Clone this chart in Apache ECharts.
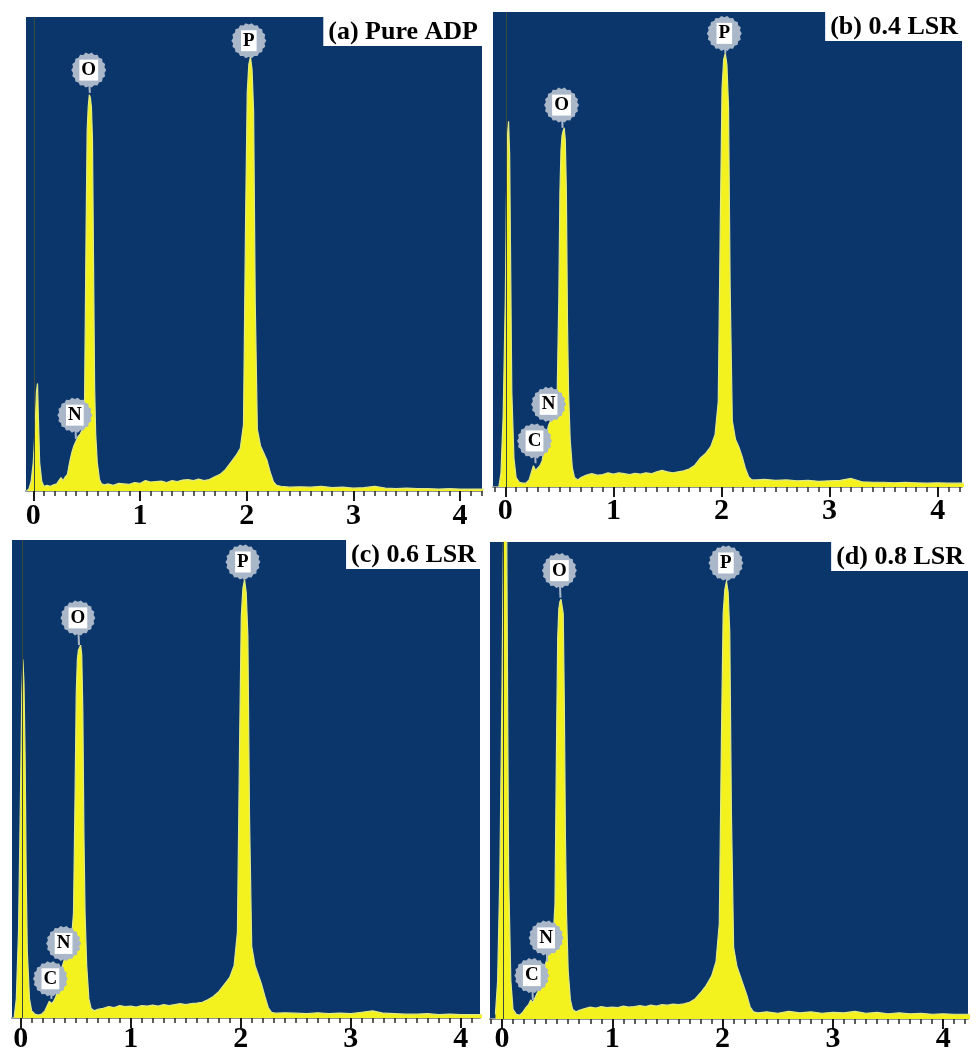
<!DOCTYPE html>
<html>
<head>
<meta charset="utf-8">
<script src="https://cdn.jsdelivr.net/npm/echarts@6/dist/echarts.min.js"></script>
<style>
  html, body { margin: 0; padding: 0; background: #ffffff; }
  #chart { width: 976px; height: 1054px; }
</style>
</head>
<body>
<div id="chart"></div>
<script>
// ---------------- DATA ----------------
// Energy (keV) sampling grid shared by all four EDS spectra
const energy = [
  -0.06,-0.04,-0.02,0.0,0.01,0.02,0.03,0.04,0.05,0.06,
  0.08,0.10,0.13,0.16,0.19,0.22,0.24,0.26,0.27,0.28,
  0.30,0.32,0.34,0.36,0.38,0.40,0.42,0.44,0.46,0.48,
  0.495,0.505,0.515,0.525,0.535,0.545,0.555,0.565,0.575,0.585,
  0.60,0.62,0.64,0.67,0.70,0.75,0.80,0.85,0.90,0.95,
  1.00,1.05,1.10,1.15,1.20,1.25,1.30,1.35,1.40,1.45,
  1.50,1.55,1.60,1.65,1.70,1.75,1.80,1.85,1.90,1.94,
  1.97,1.99,2.005,2.02,2.035,2.05,2.065,2.08,2.10,2.13,
  2.16,2.19,2.22,2.25,2.28,2.32,2.40,2.50,2.60,2.70,
  2.80,2.90,3.00,3.10,3.20,3.30,3.40,3.50,3.60,3.70,
  3.80,3.90,4.00,4.10,4.20,4.25
];

// Relative counts (% of full scale) — (a) Pure ADP
const countsA = [
  0,0.5,2,6,10,15,21,22.7,14,6,
  2,1,1.2,1,1.3,1.5,2.2,2.8,2.5,2.2,
  3,3.5,6,8,9.5,10.5,11.5,12,13,17,
  55,76,81,83.6,83,81,74,48,22,12,
  6,2.5,1.5,1.3,1.5,1.2,1.6,1.5,1.4,1.8,
  1.6,2.2,1.9,2,2.1,1.8,2.2,2,2.3,2.4,
  2.2,2.5,2.2,2.4,3,3.5,4.5,6,7.5,9,
  14,58,84,90,91.6,89,80,40,13,9.5,
  8,6.5,4,2,1.2,1,0.8,0.9,0.8,1,
  0.7,0.8,0.6,0.7,1,0.6,0.5,0.6,0.5,0.5,
  0.4,0.5,0.4,0.4,0.4,0.4
];
// (b) 0.4 LSR
const countsB = [
  0,3,15,40,60,74,77,70,45,20,
  6,2,1,0.8,0.8,1.5,3,4.5,4,3.5,
  4,4.5,5.5,8,11,13,14,14.5,15.5,20,
  40,62,71,74,75,75.6,73,62,35,20,
  10,4,2,1.5,2,2.5,2.8,2.5,2.6,3,
  2.7,3,2.8,2.6,2.9,2.7,3,2.8,3.2,3.5,
  3.2,3,3.2,3.4,3.8,4.5,6,7,8.5,11,
  18,58,84,90,91.3,89,80,42,14,10,
  8.5,6.5,4,2.2,1.5,1.5,1.6,1.4,1.5,1.3,
  1.4,1.2,1.3,1.4,1.8,1.1,1,1,0.9,1,
  0.9,0.8,0.9,0.8,0.8,0.8
];
// (c) 0.6 LSR
const countsC = [
  0,4,18,50,68,75,70,55,30,14,
  4,1.5,0.8,0.6,0.8,1.5,2.5,3.5,3.2,3,
  3.5,4.5,6,8.5,11,12.5,13.5,14.5,16,22,
  48,68,75,77,77.5,78,76,64,38,22,
  11,4,2,1.5,1.8,2,2.4,2.2,2.6,2.4,
  2.5,2.3,2.6,2.5,2.7,2.5,2.8,2.6,2.8,3,
  2.8,3,3.1,3.3,3.8,4.5,5.5,7,8.5,11,
  18,58,84,90,91.7,89,80,42,15,11,
  9,7,4.5,2.2,1.2,1,1.1,1,0.9,1.1,
  0.9,1,0.9,1.2,1.5,1,0.9,0.8,0.8,0.9,
  0.7,0.8,0.7,0.7,0.7,0.7
];
// (d) 0.8 LSR
const countsD = [
  1,8,30,70,95,110,120,115,70,30,
  8,2,1,0.8,1.5,2.5,3,4,3.8,3.5,
  4.5,5.5,6.5,8.5,10.5,12,13.5,14.5,16,24,
  60,80,86,87.5,88,88.3,85,66,38,22,
  10,4,2,1.5,1.8,2.2,2.5,2.3,2.6,2.4,
  2.5,2.4,2.7,2.5,2.6,2.8,2.6,2.9,2.7,3,
  2.9,3.1,3,3.2,3.5,4.2,5.5,7,9,12,
  20,60,85,90,91.8,89.5,81,43,15,11,
  9,7,5,2.5,1.5,1.3,1.5,1.2,1.6,1.3,
  1.5,1.2,1.4,1.3,1.6,1.2,1.4,1.1,1.3,1.1,
  1.2,1,1.1,1,1,1
];

// Element markers: [element, energy, marker height, peak-top height]
const peaksA = [['N',0.39,16,11],['O',0.52,88.8,84],['P',2.02,95,91.6]];
const peaksB = [['C',0.27,9.7,5],['N',0.40,17.4,14],['O',0.52,80.4,75.6],['P',2.026,95.5,91.3]];
const peaksC = [['C',0.27,8.2,4],['N',0.39,15.6,12.5],['O',0.52,83.7,78],['P',2.02,95.4,91.7]];
const peaksD = [['C',0.27,9.1,4],['N',0.40,17,12],['O',0.52,94,88.3],['P',2.03,95.6,91.8]];

const panelTitles = ['(a) Pure ADP', '(b) 0.4 LSR', '(c) 0.6 LSR', '(d) 0.8 LSR'];
const majorTicks = [0, 1, 2, 3, 4];
const tickLabels = ['0', '1', '2', '3', '4'];

// ---------------- LAYOUT / STYLE ----------------
const BG = '#0b366b';
const YELLOW = '#f3f21e';
const EDGE = '#e2ea86';
const GEAR = '#a9b7c9';
const SERIF = '"Liberation Serif", "DejaVu Serif", serif';

const layout = [
  { left: 26,  top: 17,  width: 456, height: 474, min: -0.068, max: 4.205, margin: 10 },
  { left: 493, top: 12,  width: 469, height: 475, min: -0.114, max: 4.225, margin: 9 },
  { left: 12,  top: 540, width: 468, height: 480, min: -0.079, max: 4.175, margin: 6 },
  { left: 490, top: 542, width: 478, height: 482, min: -0.109, max: 4.225, margin: 5 }
];
const countsList = [countsA, countsB, countsC, countsD];
const peaksList = [peaksA, peaksB, peaksC, peaksD];

function gearPath(n) {
  const pts = [];
  for (let i = 0; i < n * 2; i++) {
    const a = (i / (n * 2)) * Math.PI * 2;
    const r = i % 2 === 0 ? 50 : 45.5;
    pts.push((50 + r * Math.cos(a)).toFixed(2) + ' ' + (50 + r * Math.sin(a)).toFixed(2));
  }
  return 'path://M' + pts.join(' L') + ' Z';
}
const GEAR_PATH = gearPath(18);

const grids = [], xAxes = [], yAxes = [], series = [], titles = [];

layout.forEach((L, p) => {
  grids.push({ left: L.left, top: L.top, width: L.width, height: L.height,
    show: true, backgroundColor: BG, borderWidth: 0 });
  const minor = [];
  for (let k = -2; k <= 43; k++) {
    const v = k / 10;
    if (k % 10 !== 0 && v >= L.min && v <= L.max) minor.push(v);
  }
  xAxes.push({
    type: 'value', gridIndex: p, min: L.min, max: L.max, position: 'bottom',
    splitLine: { show: false },
    axisLine: { show: true, onZero: false, lineStyle: { color: '#8e9298', width: 2 } },
    axisTick: { show: true, inside: false, length: 10, customValues: majorTicks,
      lineStyle: { color: '#1a1a1a', width: 2 } },
    axisLabel: { show: true, customValues: majorTicks, margin: L.margin,
      formatter: v => tickLabels[majorTicks.indexOf(Math.round(v))] ?? '',
      color: '#000', fontFamily: SERIF, fontWeight: 'bold', fontSize: 30 }
  });
  xAxes.push({
    type: 'value', gridIndex: p, min: L.min, max: L.max, position: 'bottom',
    splitLine: { show: false },
    axisLine: { show: false },
    axisTick: { show: true, inside: false, length: 5, customValues: minor,
      lineStyle: { color: '#2a2a2a', width: 1.5 } },
    axisLabel: { show: false }
  });
  yAxes.push({ type: 'value', gridIndex: p, min: 0, max: 100, show: false });

  const counts = countsList[p];
  series.push({
    type: 'line', xAxisIndex: 2 * p, yAxisIndex: p, z: 2,
    data: energy.map((e, i) => [e, counts[i]]),
    showSymbol: false, smooth: false, clip: true, animation: false,
    lineStyle: { color: EDGE, width: 1.2 },
    areaStyle: { color: YELLOW, opacity: 1 },
    markLine: { silent: true, symbol: 'none', animation: false,
      label: { show: false },
      lineStyle: { color: '#3b4a3a', width: 1, type: 'solid' },
      data: [{ xAxis: 0.01 }] }
  });
  peaksList[p].forEach(pk => {
    series.push({
      type: 'line', xAxisIndex: 2 * p, yAxisIndex: p, z: 3,
      data: [[pk[1], pk[2]], [pk[1] + 0.01, pk[3]]],
      showSymbol: false, animation: false,
      lineStyle: { color: GEAR, width: 2 }
    });
  });
  series.push({
    type: 'scatter', xAxisIndex: 2 * p, yAxisIndex: p, z: 5, animation: false,
    symbol: GEAR_PATH, symbolSize: 35,
    itemStyle: { color: GEAR, opacity: 1 },
    data: peaksList[p].map(pk => ({ name: pk[0], value: [pk[1], pk[2]] })),
    label: { show: true, position: 'inside', formatter: q => q.name,
      backgroundColor: '#ffffff', padding: [2, 2, 0, 2],
      color: '#000', fontFamily: SERIF, fontWeight: 'bold', fontSize: 19, lineHeight: 19 }
  });

  titles.push({
    text: panelTitles[p],
    right: 976 - (L.left + L.width), top: L.top,
    backgroundColor: '#ffffff', padding: [2, 4, 1, 5],
    textStyle: { color: '#000', fontFamily: SERIF, fontWeight: 'bold', fontSize: 26, lineHeight: 26 }
  });
});

const chart = echarts.init(document.getElementById('chart'), null, { renderer: 'canvas' });
chart.setOption({
  animation: false,
  backgroundColor: '#ffffff',
  title: titles,
  grid: grids,
  xAxis: xAxes,
  yAxis: yAxes,
  series: series
});
</script>
</body>
</html>
